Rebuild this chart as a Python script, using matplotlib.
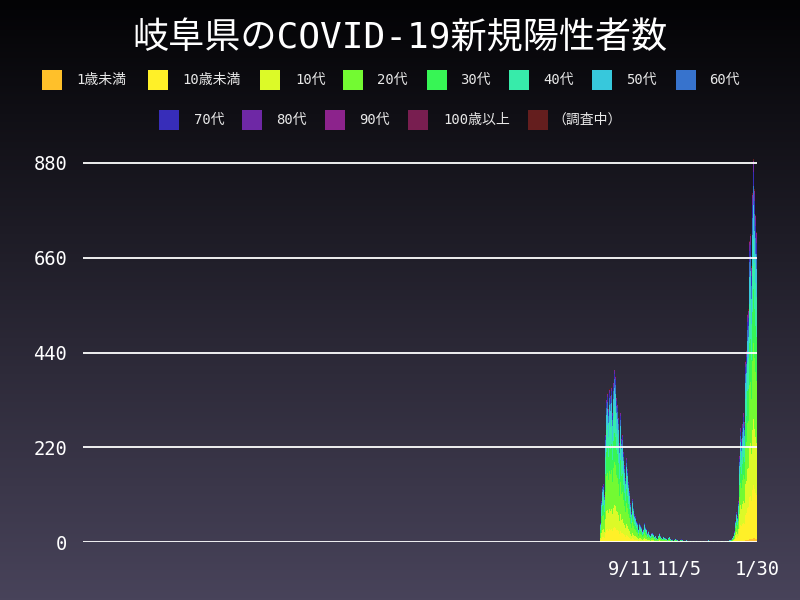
import numpy as np
import pandas as pd
import matplotlib
matplotlib.use('Agg')
import matplotlib.pyplot as plt
import matplotlib.dates as mdates
from matplotlib.patches import Rectangle

plt.rcParams['font.family'] = ['DejaVu Sans Mono', 'Noto Sans CJK JP']

# ---------------- data ----------------
title = '岐阜県のCOVID-19新規陽性者数'
age_labels = ['1歳未満', '10歳未満', '10代', '20代', '30代', '40代', '50代',
              '60代', '70代', '80代', '90代', '100歳以上', '（調査中）']
age_colors = ['#FFC02A', '#FFF028', '#DCFA28', '#73FA32', '#37F555', '#37EBAA',
              '#37C8DC', '#3773CD', '#372DB9', '#6E28A5', '#8C238C', '#781E50', '#641E1E']

first_day = '2021-08-09'
aug = [45, 95, 130, 120, 135, 110, 250, 330, 345, 310, 355, 340, 360, 330,
       300, 370, 400, 385, 335, 320, 290, 230, 300]
sep = [270, 240, 250, 210, 180, 150, 195, 170, 140, 120, 110, 90, 70, 100,
       80, 65, 60, 50, 45, 30, 55, 45, 40, 35, 25, 30, 45, 35, 30, 20]
oct_ = [25, 22, 18, 15, 20, 22, 18, 12, 15, 10, 8, 12, 15, 20, 14, 10, 8, 12,
        10, 9, 8, 6, 5, 10, 12, 7, 4, 6, 3, 5, 8]
nov = [10, 6, 4, 3, 2, 5, 6, 4, 3, 2, 1, 3, 4, 2, 1, 0, 2, 1, 0, 3, 1, 0, 0,
       2, 1, 0, 1, 3, 0, 1]
dec = [0, 2, 1, 0, 0, 1, 4, 2, 0, 0, 1, 0, 3, 1, 0, 0, 2, 1, 0, 1, 0, 3, 2,
       1, 0, 2, 1, 3, 2, 4, 3]
jan = [4, 6, 10, 15, 25, 50, 70, 60, 95, 140, 200, 265, 240, 275, 300, 280,
       420, 445, 530, 550, 540, 700, 715, 640, 810, 890, 820, 760, 720, 700]

share_5th = [0.5, 8, 13, 25, 17, 15, 11, 5, 3, 1.5, 0.6, 0, 0.4]
share_6th = [1, 14, 17, 20, 14, 13, 9, 5, 3.5, 2, 1, 0, 0.5]
wave6_start = '2022-01-01'

yticks = [0, 220, 440, 660, 880]
xtick_dates = ['2021-09-11', '2021-11-05', '2022-01-30']
xtick_labels = ['9/11', '11/5', '1/30']
axis_start = '2020-01-13'

# ---------------- figure ----------------
W, H = 800, 600
fig = plt.figure(figsize=(8, 6), dpi=100)

# gradient background
bg = fig.add_axes([0, 0, 1, 1], zorder=-1)
top = np.array([3, 3, 5]) / 255
bot = np.array([72, 67, 90]) / 255
t = np.linspace(0, 1, 300)[:, None]
grad = top[None, :] * (1 - t) + bot[None, :] * t
bg.imshow(grad[:, None, :], aspect='auto', extent=[0, 1, 0, 1])
bg.axis('off')

ax_left, ax_right = 83, 757.45
y0_px, ppu = 542, 379 / 880
ymax = 900
ax = fig.add_axes([ax_left / W, (H - y0_px) / H, (ax_right - ax_left) / W,
                   ymax * ppu / H])
ax.set_facecolor('none')

totals = np.array(aug + sep + oct_ + nov + dec + jan, dtype=float)
dates = pd.date_range(first_day, periods=len(totals), freq='D')
x = mdates.date2num(dates)
s5 = np.array(share_5th) / sum(share_5th)
s6 = np.array(share_6th) / sum(share_6th)
is6 = (dates >= pd.Timestamp(wave6_start))[:, None]
counts = totals[:, None] * np.where(is6, s6[None, :], s5[None, :])

bottom = np.zeros(len(totals))
for i, c in enumerate(age_colors):
    ax.bar(x, counts[:, i], width=1.0, bottom=bottom, color=c, linewidth=0,
           zorder=1)
    bottom += counts[:, i]

end = mdates.date2num(pd.Timestamp(xtick_dates[-1]))
ax.set_xlim(mdates.date2num(pd.Timestamp(axis_start)) - 0.3, end + 0.45)
ax.set_ylim(0, ymax)
ax.set_yticks(yticks)
ax.set_yticklabels([str(v) for v in yticks])
ax.set_xticks(mdates.date2num(pd.to_datetime(xtick_dates)))
ax.set_xticklabels(xtick_labels)
ax.yaxis.grid(True, color='white', lw=1.3)
ax.set_axisbelow(False)
for sp in ax.spines.values():
    sp.set_visible(False)
ax.tick_params(axis='both', length=0, colors='white', labelsize=13.5)
ax.tick_params(axis='y', pad=11.5)
ax.tick_params(axis='x', pad=13)

# title
fig.text(0.5, 1 - 38 / H, title, ha='center', va='center', color='white',
         fontsize=26)

# legend (manual, two rows)
sq_left = [42, 148, 260, 343, 427, 509, 592, 676, 159, 242, 325, 408, 528]
txt_left = [76, 182, 295, 377, 460, 543, 626, 709, 194, 276, 359, 443, 552]
rows_y = [80] * 8 + [120] * 5
for lab, col, sx, tx, cy in zip(age_labels, age_colors, sq_left, txt_left, rows_y):
    fig.add_artist(Rectangle((sx / W, 1 - (cy + 10) / H), 20 / W, 20 / H,
                             transform=fig.transFigure, facecolor=col,
                             edgecolor='none'))
    fig.text(tx / W, 1 - cy / H, lab, ha='left', va='center', color='#e8e8e8',
             fontsize=10)

fig.savefig('out.png', dpi=100)
